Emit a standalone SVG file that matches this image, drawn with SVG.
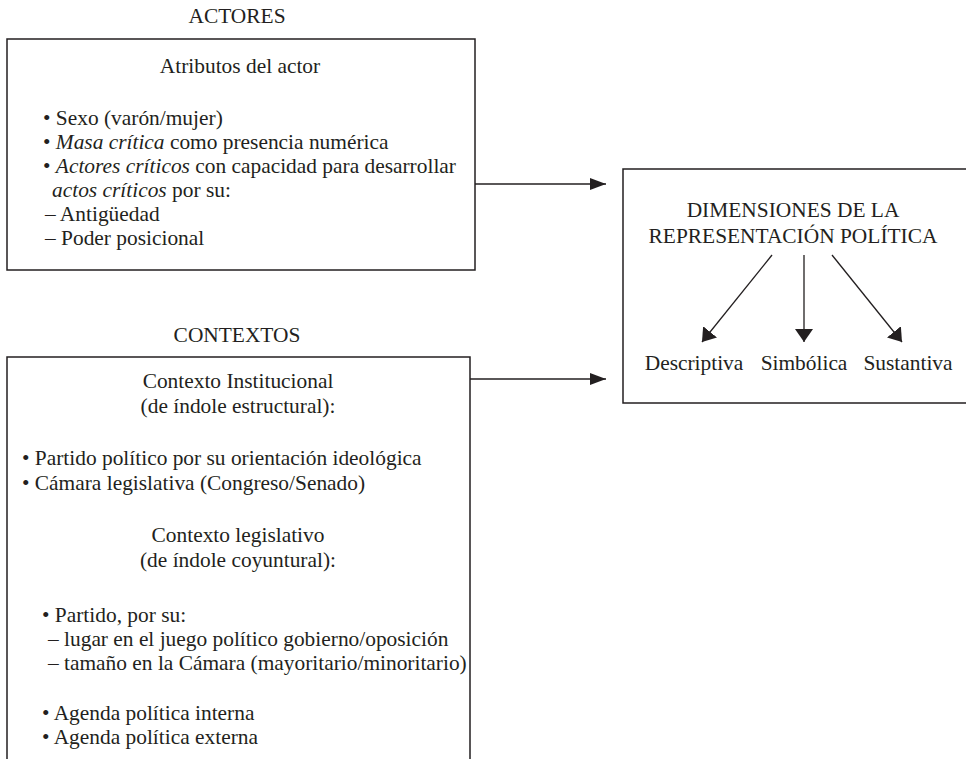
<svg xmlns="http://www.w3.org/2000/svg" width="966" height="759" viewBox="0 0 966 759">
<style>
text{font-family:"Liberation Serif","Times New Roman",serif;font-size:21.4px;fill:#231f20}
.c{text-anchor:middle}
.box{fill:none;stroke:#231f20;stroke-width:1.5}
.ln{stroke:#231f20;stroke-width:1.3;fill:none}
</style>
<defs>
<marker id="ah" markerUnits="userSpaceOnUse" markerWidth="16" markerHeight="12" refX="16" refY="6" orient="auto"><path d="M0,0 L16,6 L0,12 z" fill="#231f20"/></marker>
<marker id="ah2" markerUnits="userSpaceOnUse" markerWidth="13" markerHeight="18" refX="13" refY="9" orient="auto"><path d="M0,0 L13,9 L0,18 z" fill="#231f20"/></marker>
</defs>
<g id="actores">
<text class="c" x="237" y="23">ACTORES</text>
<rect class="box" x="7" y="39" width="468" height="231"/>
<text class="c" x="240" y="73">Atributos del actor</text>
<text x="43" y="125">• Sexo (varón/mujer)</text>
<text x="43" y="149">• <tspan font-style="italic">Masa crítica</tspan> como presencia numérica</text>
<text x="43" y="173">• <tspan font-style="italic">Actores críticos</tspan> con capacidad para desarrollar</text>
<text x="52" y="197"><tspan font-style="italic">actos críticos</tspan> por su:</text>
<text x="45" y="221">– Antigüedad</text>
<text x="45" y="245">– Poder posicional</text>
</g>
<g id="contextos">
<text class="c" x="237" y="342">CONTEXTOS</text>
<path class="box" d="M7,765 V357 H470 V765"/>
<text class="c" x="238" y="388">Contexto Institucional</text>
<text class="c" x="238" y="413">(de índole estructural):</text>
<text x="22" y="465">• Partido político por su orientación ideológica</text>
<text x="22" y="490">• Cámara legislativa (Congreso/Senado)</text>
<text class="c" x="238" y="542">Contexto legislativo</text>
<text class="c" x="238" y="567">(de índole coyuntural):</text>
<text x="42" y="622">• Partido, por su:</text>
<text x="48" y="646">– lugar en el juego político gobierno/oposición</text>
<text x="48" y="670">– tamaño en la Cámara (mayoritario/minoritario)</text>
<text x="42" y="720">• Agenda política interna</text>
<text x="42" y="744">• Agenda política externa</text>
</g>
<g id="dimensiones">
<path class="box" d="M970,169 H623 V403 H970"/>
<text class="c" x="793" y="217">DIMENSIONES DE LA</text>
<text class="c" x="793" y="243">REPRESENTACIÓN POLÍTICA</text>
<text class="c" x="694" y="370">Descriptiva</text>
<text class="c" x="804" y="370">Simbólica</text>
<text class="c" x="908" y="370">Sustantiva</text>
</g>
<g id="connectors">
<line class="ln" x1="475" y1="184" x2="606" y2="184" marker-end="url(#ah)"/>
<line class="ln" x1="470" y1="379" x2="606" y2="379" marker-end="url(#ah)"/>
<line class="ln" x1="772" y1="255" x2="702" y2="342" marker-end="url(#ah2)"/>
<line class="ln" x1="804" y1="255" x2="804" y2="342" marker-end="url(#ah2)"/>
<line class="ln" x1="832" y1="255" x2="902" y2="342" marker-end="url(#ah2)"/>
</g>
</svg>
